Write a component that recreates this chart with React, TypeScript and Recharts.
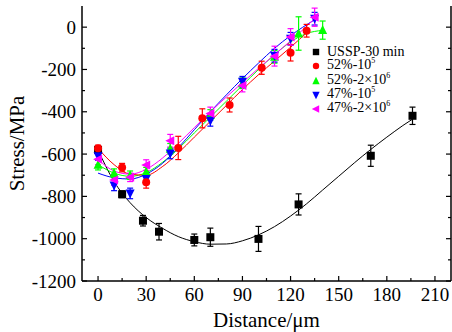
import {
  ComposedChart,
  ErrorBar,
  Legend,
  Line,
  Scatter,
  XAxis,
  YAxis,
} from "recharts";

// measured points: x (µm), y (MPa), e (± error)
const ussp = [
  { x: 0, y: -580, e: 15 },
  { x: 15, y: -790, e: 16 },
  { x: 28, y: -915, e: 25 },
  { x: 38, y: -967, e: 39 },
  { x: 60, y: -1006, e: 28 },
  { x: 70, y: -993, e: 43 },
  { x: 100, y: -1001, e: 59 },
  { x: 125, y: -838, e: 50 },
  { x: 170, y: -608, e: 50 },
  { x: 196, y: -419, e: 41 },
];
const s52a = [
  { x: 0, y: -573, e: 15 },
  { x: 15, y: -664, e: 20 },
  { x: 30, y: -733, e: 28 },
  { x: 50, y: -571, e: 55 },
  { x: 65, y: -431, e: 45 },
  { x: 82, y: -368, e: 33 },
  { x: 102, y: -192, e: 31 },
  { x: 120, y: -121, e: 39 },
  { x: 130, y: -17, e: 30 },
];
const s52b = [
  { x: 0, y: -650, e: 25 },
  { x: 10, y: -690, e: 20 },
  { x: 20, y: -700, e: 20 },
  { x: 30, y: -683, e: 20 },
  { x: 45, y: -575, e: 25 },
  { x: 70, y: -415, e: 25 },
  { x: 90, y: -265, e: 25 },
  { x: 110, y: -140, e: 30 },
  { x: 125, y: -30, e: 79 },
  { x: 140, y: -14, e: 43 },
];
const s47a = [
  { x: 0, y: -610, e: 20 },
  { x: 10, y: -748, e: 25 },
  { x: 20, y: -786, e: 25 },
  { x: 30, y: -718, e: 25 },
  { x: 45, y: -597, e: 25 },
  { x: 70, y: -443, e: 25 },
  { x: 90, y: -258, e: 25 },
  { x: 110, y: -135, e: 30 },
  { x: 120, y: -55, e: 30 },
  { x: 135, y: 40, e: 30 },
];
const s47b = [
  { x: 0, y: -625, e: 25 },
  { x: 10, y: -723, e: 25 },
  { x: 20, y: -710, e: 20 },
  { x: 30, y: -652, e: 25 },
  { x: 45, y: -537, e: 30 },
  { x: 70, y: -408, e: 30 },
  { x: 90, y: -276, e: 30 },
  { x: 110, y: -137, e: 47 },
  { x: 120, y: -46, e: 39 },
  { x: 135, y: 47, e: 43 },
];

// fitted curves
const usspFit = [
  { x: 0, y: -580 }, { x: 5, y: -660 }, { x: 10, y: -730 }, { x: 15, y: -785 },
  { x: 20, y: -830 }, { x: 30, y: -900 }, { x: 40, y: -950 }, { x: 50, y: -990 },
  { x: 60, y: -1014 }, { x: 70, y: -1026 }, { x: 80, y: -1025 }, { x: 90, y: -1010 },
  { x: 100, y: -982 }, { x: 110, y: -943 }, { x: 120, y: -893 }, { x: 130, y: -835 },
  { x: 140, y: -770 }, { x: 150, y: -705 }, { x: 160, y: -640 }, { x: 170, y: -578 },
  { x: 180, y: -520 }, { x: 190, y: -465 }, { x: 197, y: -430 },
];
const s52aFit = [
  { x: 0, y: -573 }, { x: 10, y: -650 }, { x: 20, y: -695 }, { x: 30, y: -700 },
  { x: 40, y: -660 }, { x: 50, y: -595 }, { x: 60, y: -520 }, { x: 70, y: -445 },
  { x: 80, y: -370 }, { x: 90, y: -295 }, { x: 100, y: -225 }, { x: 110, y: -160 },
  { x: 120, y: -95 }, { x: 131, y: -20 },
];
const s52bFit = [
  { x: 0, y: -650 }, { x: 10, y: -690 }, { x: 20, y: -705 }, { x: 30, y: -688 },
  { x: 40, y: -640 }, { x: 50, y: -575 }, { x: 60, y: -500 }, { x: 70, y: -425 },
  { x: 80, y: -350 }, { x: 90, y: -275 }, { x: 100, y: -200 }, { x: 110, y: -130 },
  { x: 120, y: -70 }, { x: 130, y: -30 }, { x: 140, y: -15 },
];
const s47aFit = [
  { x: 0, y: -690 }, { x: 10, y: -712 }, { x: 20, y: -718 }, { x: 30, y: -695 },
  { x: 40, y: -645 }, { x: 50, y: -570 }, { x: 60, y: -485 }, { x: 70, y: -400 },
  { x: 80, y: -320 }, { x: 90, y: -243 }, { x: 100, y: -170 }, { x: 110, y: -100 },
  { x: 120, y: -40 }, { x: 135, y: 35 },
];
const s47bFit = [
  { x: 0, y: -625 }, { x: 10, y: -680 }, { x: 20, y: -695 }, { x: 30, y: -672 },
  { x: 40, y: -620 }, { x: 50, y: -550 }, { x: 60, y: -475 }, { x: 70, y: -400 },
  { x: 80, y: -330 }, { x: 90, y: -262 }, { x: 100, y: -195 }, { x: 110, y: -130 },
  { x: 120, y: -65 }, { x: 135, y: 40 },
];

const xTicks = [0, 15, 30, 45, 60, 75, 90, 105, 120, 135, 150, 165, 180, 195, 210];
const yTicks = [-1200, -1100, -1000, -900, -800, -700, -600, -500, -400, -300, -200, -100, 0];

const FONT = "'Liberation Serif', 'DejaVu Serif', serif";

type Kind = "square" | "circle" | "up" | "down" | "left";

function marker(kind: Kind, cx: number, cy: number, fill: string, r = 4) {
  switch (kind) {
    case "square":
      return <rect x={cx - r} y={cy - r} width={2 * r} height={2 * r} fill={fill} />;
    case "circle":
      return <circle cx={cx} cy={cy} r={r} fill={fill} />;
    case "up":
      return <polygon points={`${cx},${cy - r - 1} ${cx - r - 0.5},${cy + r} ${cx + r + 0.5},${cy + r}`} fill={fill} />;
    case "down":
      return <polygon points={`${cx},${cy + r + 1} ${cx - r - 0.5},${cy - r} ${cx + r + 0.5},${cy - r}`} fill={fill} />;
    default:
      return <polygon points={`${cx - r - 1},${cy} ${cx + r},${cy - r - 0.5} ${cx + r},${cy + r + 0.5}`} fill={fill} />;
  }
}

const shape = (kind: Kind, fill: string) => (p: any) => marker(kind, p.cx, p.cy, fill);

function XTick({ x, y, payload, top }: any) {
  const v = payload.value;
  const major = v % 30 === 0;
  const len = major ? 5 : 3;
  return (
    <g>
      <line x1={x} x2={x} y1={y} y2={top ? y + len : y - len} stroke="#000" strokeWidth={1.2} />
      {!top && major && (
        <text x={x} y={y + 20} textAnchor="middle" fontSize={19} fontFamily={FONT} fill="#000">
          {v}
        </text>
      )}
    </g>
  );
}

function YTick({ x, y, payload, right }: any) {
  const v = payload.value;
  const major = v % 200 === 0;
  const len = major ? 5 : 3;
  return (
    <g>
      <line x1={x} x2={right ? x - len : x + len} y1={y} y2={y} stroke="#000" strokeWidth={1.2} />
      {!right && major && (
        <text x={x - 6} y={y + 6.5} textAnchor="end" fontSize={19} fontFamily={FONT} fill="#000">
          {v}
        </text>
      )}
    </g>
  );
}

const legendRows: { kind: Kind; color: string; label: string; sup?: string }[] = [
  { kind: "square", color: "#000000", label: "USSP-30 min" },
  { kind: "circle", color: "#ff0000", label: "52%-10", sup: "5" },
  { kind: "up", color: "#00ff00", label: "52%-2\u00d710", sup: "6" },
  { kind: "down", color: "#0000ff", label: "47%-10", sup: "5" },
  { kind: "left", color: "#ff00ff", label: "47%-2\u00d710", sup: "6" },
];

function LegendBox() {
  return (
    <div style={{ fontFamily: FONT, fontSize: 14, color: "#000", lineHeight: "14.3px" }}>
      {legendRows.map((r) => (
        <div key={r.label} style={{ display: "flex", alignItems: "center", height: 14.3 }}>
          <svg width={12} height={12} style={{ marginRight: 5 }}>
            {marker(r.kind, 6, 6, r.color, 3.2)}
          </svg>
          <span style={{ whiteSpace: "nowrap" }}>
            {r.label}
            {r.sup && <span style={{ fontSize: 8, position: "relative", top: -6 }}>{r.sup}</span>}
          </span>
        </div>
      ))}
    </div>
  );
}

const series = [
  { data: s52b, fit: s52bFit, kind: "up" as Kind, color: "#00ff00" },
  { data: s47a, fit: s47aFit, kind: "down" as Kind, color: "#0000ff" },
  { data: s52a, fit: s52aFit, kind: "circle" as Kind, color: "#ff0000" },
  { data: s47b, fit: s47bFit, kind: "left" as Kind, color: "#ff00ff" },
];

export default function App() {
  return (
    <div style={{ position: "absolute", left: 0, top: 0, width: 452, height: 332, background: "#fff" }}>
      <ComposedChart width={452} height={332} margin={{ top: 6, right: 0, left: 0, bottom: 0 }}>
        <XAxis
          xAxisId="b"
          type="number"
          dataKey="x"
          domain={[-10, 220]}
          ticks={xTicks}
          interval={0}
          height={51}
          tickSize={0}
          tickMargin={0}
          axisLine={{ stroke: "#000", strokeWidth: 1.5 }}
          tickLine={false}
          tick={<XTick />}
          allowDataOverflow
          label={{
            value: "Distance/\u03bcm",
            position: "insideBottom",
            offset: 5,
            style: { fontFamily: FONT, fontSize: 21, fill: "#000" },
          }}
        />
        <XAxis
          xAxisId="t"
          orientation="top"
          type="number"
          dataKey="x"
          domain={[-10, 220]}
          ticks={xTicks}
          interval={0}
          height={0}
          tickSize={0}
          tickMargin={0}
          axisLine={{ stroke: "#000", strokeWidth: 1.5 }}
          tickLine={false}
          tick={<XTick top />}
          allowDataOverflow
        />
        <YAxis
          yAxisId="l"
          type="number"
          domain={[-1200, 100]}
          ticks={yTicks}
          interval={0}
          width={82}
          tickSize={0}
          tickMargin={0}
          axisLine={{ stroke: "#000", strokeWidth: 1.5 }}
          tickLine={false}
          tick={<YTick />}
          allowDataOverflow
          label={{
            value: "Stress/MPa",
            angle: -90,
            position: "insideLeft",
            offset: 17,
            style: { fontFamily: FONT, fontSize: 21, fill: "#000", textAnchor: "middle" },
          }}
        />
        <YAxis
          yAxisId="r"
          orientation="right"
          type="number"
          domain={[-1200, 100]}
          ticks={yTicks}
          interval={0}
          width={1}
          tickSize={0}
          tickMargin={0}
          axisLine={{ stroke: "#000", strokeWidth: 1.5 }}
          tickLine={false}
          tick={<YTick right />}
          allowDataOverflow
        />
        <Legend
          layout="vertical"
          align="center"
          verticalAlign="middle"
          wrapperStyle={{ left: 310, top: 45, width: 140 }}
          content={() => <LegendBox />}
        />

        <Line
          xAxisId="b"
          yAxisId="l"
          data={usspFit}
          dataKey="y"
          type="monotone"
          stroke="#000"
          strokeWidth={1}
          dot={false}
          isAnimationActive={false}
          legendType="none"
        />
        <Scatter
          xAxisId="b"
          yAxisId="l"
          data={ussp}
          dataKey="y"
          fill="#000"
          shape={shape("square", "#000")}
          isAnimationActive={false}
        >
          <ErrorBar dataKey="e" direction="y" width={3} stroke="#000" strokeWidth={1.2} />
        </Scatter>

        {series.map((s) => (
          <Line
            key={"f" + s.color}
            xAxisId="b"
            yAxisId="l"
            data={s.fit}
            dataKey="y"
            type="monotone"
            stroke={s.color}
            strokeWidth={1}
            dot={false}
            isAnimationActive={false}
            legendType="none"
          />
        ))}
        {series.map((s) => (
          <Scatter
            key={"s" + s.color}
            xAxisId="b"
            yAxisId="l"
            data={s.data}
            dataKey="y"
            fill={s.color}
            shape={shape(s.kind, s.color)}
            isAnimationActive={false}
          >
            <ErrorBar dataKey="e" direction="y" width={3} stroke={s.color} strokeWidth={1.2} />
          </Scatter>
        ))}
      </ComposedChart>
    </div>
  );
}
